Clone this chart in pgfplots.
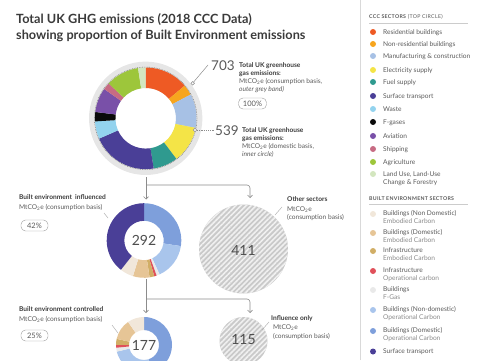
\documentclass[border=0pt]{standalone}
\usepackage{pgfplots}
\pgfplotsset{compat=1.18}
\usepackage{fontspec}
\setmainfont{Lato}
\usetikzlibrary{patterns.meta,arrows.meta}

\definecolor{cRes}{HTML}{EE5A24}
\definecolor{cNonRes}{HTML}{F7A51E}
\definecolor{cManuf}{HTML}{A7C1E5}
\definecolor{cElec}{HTML}{F4E447}
\definecolor{cFuel}{HTML}{2F9A8F}
\definecolor{cSurf}{HTML}{4A3F97}
\definecolor{cWaste}{HTML}{93D3EE}
\definecolor{cFgas}{HTML}{0A0A0A}
\definecolor{cAvi}{HTML}{7950A8}
\definecolor{cShip}{HTML}{C76B83}
\definecolor{cAgri}{HTML}{9DC63B}
\definecolor{cLand}{HTML}{D3E6BF}
\definecolor{bNDEmb}{HTML}{F1E7DA}
\definecolor{bDEmb}{HTML}{E6C596}
\definecolor{bInfEmb}{HTML}{D1AE66}
\definecolor{bInfOp}{HTML}{E0505A}
\definecolor{bFgas}{HTML}{E9E9E9}
\definecolor{bNDOp}{HTML}{A9C5EC}
\definecolor{bDOp}{HTML}{7E9FDB}
\definecolor{ringgray}{HTML}{E6E6E6}
\definecolor{txtdark}{HTML}{3A3A3A}
\definecolor{txtmid}{HTML}{5A5A5A}
\definecolor{txtlight}{HTML}{8A8A8A}
\definecolor{linegray}{HTML}{8C8C8C}
\definecolor{hatchbase}{HTML}{C9C9C9}
\definecolor{hatchline}{HTML}{F0F0F0}

% donut: cx, cy, R, r, total, list value/colour (clockwise from 12 o'clock)
\newcommand\donut[6]{%
  \xdef\cum{0}%
  \pgfmathsetmacro\dr{#3-#4}%
  \pgfmathsetmacro\unitang{360/#5}%
  \foreach \v/\c in {#6} {%
    \pgfmathsetmacro\aa{90-\cum*\unitang}%
    \pgfmathsetmacro\newcum{\cum+\v}%
    \pgfmathsetmacro\bb{90-\newcum*\unitang}%
    \xdef\cum{\newcum}%
    \edef\tmp{\noexpand\fill[\c] (axis cs:#1,#2) ++(\aa:#3pt) arc[start angle=\aa, end angle=\bb, radius=#3pt] -- ++(\bb:-\dr pt) arc[start angle=\bb, end angle=\aa, radius=#4pt] -- cycle;}%
    \tmp
  }%
}

\newcommand\legdot[2]{\fill[#1] (axis cs:373,#2) circle[radius=3pt];}

\begin{document}
\begin{tikzpicture}
\begin{axis}[x=1pt,y=1pt,xmin=0,xmax=485,ymin=0,ymax=360,axis lines=none,ticks=none,clip=false]

% ---------- title
\node[anchor=base west, font=\fontsize{12.7}{14}\selectfont\bfseries, text=txtdark, inner sep=0pt] at (axis cs:16,337) {Total UK GHG emissions (2018 CCC Data)};
\node[anchor=base west, font=\fontsize{12.7}{14}\selectfont\bfseries, text=txtdark, inner sep=0pt] at (axis cs:16,321) {showing proportion of Built Environment emissions};

% ---------- legend divider
\draw[black!15, line width=0.6pt] (axis cs:360,0) -- (axis cs:360,360);

% ---------- legend 1
\node[anchor=base west, inner sep=0pt, font=\fontsize{5.2}{6}\selectfont\addfontfeature{LetterSpace=6}, text=txtmid] at (axis cs:369,342) {\textbf{CCC SECTORS} (TOP CIRCLE)};
\draw[black!20, line width=0.5pt] (axis cs:369,337) -- (axis cs:468,337);
\legdot{cRes}{328}
\legdot{cNonRes}{316}
\legdot{cManuf}{304}
\legdot{cElec}{290}
\legdot{cFuel}{278}
\legdot{cSurf}{264}
\legdot{cWaste}{251}
\legdot{cFgas}{238}
\legdot{cAvi}{224}
\legdot{cShip}{211}
\legdot{cAgri}{198}
\legdot{cLand}{186}
\begin{scope}[every node/.style={anchor=base west, inner sep=0pt, font=\fontsize{6.6}{8}\selectfont, text=txtmid}]
\node at (axis cs:383,325.7) {Residential buildings};
\node at (axis cs:383,313.7) {Non-residential buildings};
\node at (axis cs:383,301.7) {Manufacturing \& construction};
\node at (axis cs:383,287.7) {Electricity supply};
\node at (axis cs:383,275.7) {Fuel supply};
\node at (axis cs:383,261.7) {Surface transport};
\node at (axis cs:383,248.7) {Waste};
\node at (axis cs:383,235.7) {F-gases};
\node at (axis cs:383,221.7) {Aviation};
\node at (axis cs:383,208.7) {Shipping};
\node at (axis cs:383,195.7) {Agriculture};
\node at (axis cs:383,183.7) {Land Use, Land-Use};
\node at (axis cs:383,175.7) {Change \& Forestry};
\end{scope}

% ---------- legend 2
\node[anchor=base west, inner sep=0pt, font=\fontsize{5.2}{6}\selectfont\addfontfeature{LetterSpace=6}, text=txtmid] at (axis cs:369,160) {\textbf{BUILT ENVIRONMENT SECTORS}};
\draw[black!20, line width=0.5pt] (axis cs:369,155.5) -- (axis cs:468,155.5);
\legdot{bNDEmb}{146}
\legdot{bDEmb}{127}
\legdot{bInfEmb}{109}
\legdot{bInfOp}{89}
\legdot{bFgas}{70}
\legdot{bNDOp}{50}
\legdot{bDOp}{29}
\legdot{cSurf}{8.5}
\begin{scope}[every node/.style={anchor=base west, inner sep=0pt, font=\fontsize{6.6}{8}\selectfont, text=txtmid}]
\node at (axis cs:383,144.7) {Buildings (Non Domestic)};
\node at (axis cs:383,125.7) {Buildings (Domestic)};
\node at (axis cs:383,107.7) {Infrastructure};
\node at (axis cs:383,87.7) {Infrastructure};
\node at (axis cs:383,68.7) {Buildings};
\node at (axis cs:383,48.7) {Buildings (Non-domestic)};
\node at (axis cs:383,27.7) {Buildings (Domestic)};
\node at (axis cs:383,6.7) {Surface transport};
\end{scope}
\begin{scope}[every node/.style={anchor=base west, inner sep=0pt, font=\fontsize{6.6}{8}\selectfont, text=txtlight}]
\node at (axis cs:383,136.7) {Embodied Carbon};
\node at (axis cs:383,117.7) {Embodied Carbon};
\node at (axis cs:383,99.7) {Embodied Carbon};
\node at (axis cs:383,79.7) {Operational carbon};
\node at (axis cs:383,60.7) {F-Gas};
\node at (axis cs:383,40.7) {Operational Carbon};
\node at (axis cs:383,19.7) {Operational Carbon};
\end{scope}

% ---------- top donut (domestic 539 inside consumption 703 band)
\fill[ringgray] (axis cs:145.7,241.7) circle[radius=56.7pt];
\fill[white] (axis cs:145.7,241.7) circle[radius=30.3pt];
\donut{145.7}{241.7}{50.8}{30.3}{539}{75/cRes,18/cNonRes,58/cManuf,63/cElec,42/cFuel,113/cSurf,30/cWaste,16/cFgas,42/cAvi,12/cShip,57/cAgri,13/cLand}
\draw[black!60, line width=0.4pt, dash pattern=on 0.8pt off 0.9pt] (axis cs:145.7,241.7) circle[radius=51.3pt];

% 703 marker + label
\draw[linegray, line width=0.5pt] (axis cs:193.8,278.2) -- (axis cs:208,295);
\draw[linegray, fill=white, line width=0.5pt] (axis cs:192.7,276.7) circle[radius=1.8pt];
\node[anchor=base west, inner sep=0pt, font=\fontsize{13.5}{14}\selectfont, text=txtmid] at (axis cs:211,290) {703};
\begin{scope}[every node/.style={anchor=base west, inner sep=0pt, font=\fontsize{6.6}{8}\selectfont}]
\node[text=txtdark, font=\fontsize{6.6}{8}\selectfont\bfseries] at (axis cs:239,293) {Total UK greenhouse};
\node[text=txtdark, font=\fontsize{6.6}{8}\selectfont\bfseries] at (axis cs:239,284.5) {gas emissions:};
\node[text=txtmid] at (axis cs:239,276.5) {MtCO\textsubscript{2}e (consumption basis,};
\node[text=txtmid] at (axis cs:239,269) {\itshape outer grey band)};
\end{scope}
\node[draw=black!40, rounded corners=4.5pt, minimum width=28pt, minimum height=11pt, inner sep=0pt, font=\fontsize{7.5}{8}\selectfont, text=txtmid] at (axis cs:252.5,256.5) {100\%};

% 539 marker + label
\draw[linegray, line width=0.5pt, dash pattern=on 1.2pt off 1pt] (axis cs:197,230) -- (axis cs:214,230);
\draw[linegray, fill=white, line width=0.5pt] (axis cs:195,230) circle[radius=1.8pt];
\node[anchor=base west, inner sep=0pt, font=\fontsize{13.5}{14}\selectfont, text=txtmid] at (axis cs:215,225) {539};
\begin{scope}[every node/.style={anchor=base west, inner sep=0pt, font=\fontsize{6.6}{8}\selectfont}]
\node[text=txtdark, font=\fontsize{6.6}{8}\selectfont\bfseries] at (axis cs:242,228) {Total UK greenhouse};
\node[text=txtdark, font=\fontsize{6.6}{8}\selectfont\bfseries] at (axis cs:242,219.5) {gas emissions:};
\node[text=txtmid] at (axis cs:242,211.5) {MtCO\textsubscript{2}e (domestic basis,};
\node[text=txtmid] at (axis cs:242,204) {\itshape inner circle)};
\end{scope}

% ---------- connectors
\draw[linegray, line width=0.6pt, -{Straight Barb[length=2.5pt,width=5pt]}] (axis cs:146,183) -- (axis cs:146,160.5);
\draw[linegray, line width=0.6pt, rounded corners=3pt, -{Straight Barb[length=2.5pt,width=5pt]}] (axis cs:146,175) -- (axis cs:250,175) -- (axis cs:250,162);
\draw[linegray, line width=0.6pt, -{Straight Barb[length=2.5pt,width=5pt]}] (axis cs:146,81) -- (axis cs:146,47);
\draw[linegray, line width=0.6pt, rounded corners=3pt, -{Straight Barb[length=2.5pt,width=5pt]}] (axis cs:146,61) -- (axis cs:250,61) -- (axis cs:250,47);

% ---------- built environment influenced (292)
\fill[white] (axis cs:144,119.5) circle[radius=19.7pt];
\donut{144}{119.5}{37.3}{19.7}{292}{80/bDOp,46/bNDOp,4/bFgas,3/bInfOp,6/bInfEmb,21/bDEmb,17/bNDEmb,115/cSurf}
\node[font=\fontsize{14}{15}\selectfont, text=txtdark!90] at (axis cs:144,120) {292};
\node[anchor=base west, inner sep=0pt, font=\fontsize{6.6}{8}\selectfont\bfseries, text=txtdark] at (axis cs:19,161) {Built environment\ \ influenced};
\node[anchor=base west, inner sep=0pt, font=\fontsize{6.6}{8}\selectfont, text=txtmid] at (axis cs:19,151) {MtCO\textsubscript{2}e (consumption basis)};
\node[draw=black!40, rounded corners=4.5pt, minimum width=27pt, minimum height=11pt, inner sep=0pt, font=\fontsize{7.5}{8}\selectfont, text=txtmid] at (axis cs:34.5,134.5) {42\%};
\draw[black!35, line width=0.4pt] (axis cs:104,147) -- (axis cs:108,142);

% ---------- other sectors (411)
\fill[hatchbase] (axis cs:243.5,111) circle[radius=44.5pt];
\fill[pattern={Lines[angle=45,distance=3.6pt,line width=1.6pt]}, pattern color=hatchline] (axis cs:243.5,111) circle[radius=44.5pt];
\node[font=\fontsize{14}{15}\selectfont, text=txtdark!90] at (axis cs:243.5,110) {411};
\node[anchor=base west, inner sep=0pt, font=\fontsize{6.6}{8}\selectfont\bfseries, text=txtdark] at (axis cs:287,158.5) {Other sectors};
\node[anchor=base west, inner sep=0pt, font=\fontsize{6.6}{8}\selectfont, text=txtmid] at (axis cs:287,148.5) {MtCO\textsubscript{2}e};
\node[anchor=base west, inner sep=0pt, font=\fontsize{6.6}{8}\selectfont, text=txtmid] at (axis cs:287,140.5) {(consumption basis)};
\draw[black!35, line width=0.4pt] (axis cs:282,153) -- (axis cs:275,145);

% ---------- built environment controlled (177)
\fill[white] (axis cs:144,15) circle[radius=15pt];
\donut{144}{15}{28}{15}{177}{80/bDOp,46/bNDOp,4/bFgas,3/bInfOp,6/bInfEmb,21/bDEmb,17/bNDEmb}
\node[font=\fontsize{14}{15}\selectfont, text=txtdark!90] at (axis cs:144,15) {177};
\node[anchor=base west, inner sep=0pt, font=\fontsize{6.6}{8}\selectfont\bfseries, text=txtdark] at (axis cs:19,48.5) {Built environment controlled};
\node[anchor=base west, inner sep=0pt, font=\fontsize{6.6}{8}\selectfont, text=txtmid] at (axis cs:19,39) {MtCO\textsubscript{2}e (consumption basis)};
\node[draw=black!40, rounded corners=4.5pt, minimum width=27pt, minimum height=11pt, inner sep=0pt, font=\fontsize{7.5}{8}\selectfont, text=txtmid] at (axis cs:34.5,24.5) {25\%};
\draw[black!35, line width=0.4pt] (axis cs:112,35) -- (axis cs:118,27);

% ---------- influence only (115)
\fill[hatchbase] (axis cs:243.5,19) circle[radius=24pt];
\fill[pattern={Lines[angle=45,distance=3.6pt,line width=1.6pt]}, pattern color=hatchline] (axis cs:243.5,19) circle[radius=24pt];
\node[font=\fontsize{14}{15}\selectfont, text=txtdark!90] at (axis cs:243.5,20) {115};
\node[anchor=base west, inner sep=0pt, font=\fontsize{6.6}{8}\selectfont\bfseries, text=txtdark] at (axis cs:271,40) {Influence only};
\node[anchor=base west, inner sep=0pt, font=\fontsize{6.6}{8}\selectfont, text=txtmid] at (axis cs:273,31) {MtCO\textsubscript{2}e};
\node[anchor=base west, inner sep=0pt, font=\fontsize{6.6}{8}\selectfont, text=txtmid] at (axis cs:273,22) {(consumption basis)};
\draw[black!35, line width=0.4pt] (axis cs:269,38) -- (axis cs:262,30);

\end{axis}
\pgfresetboundingbox
\path[use as bounding box] (current axis.south west) rectangle (current axis.north east);
\end{tikzpicture}
\end{document}
